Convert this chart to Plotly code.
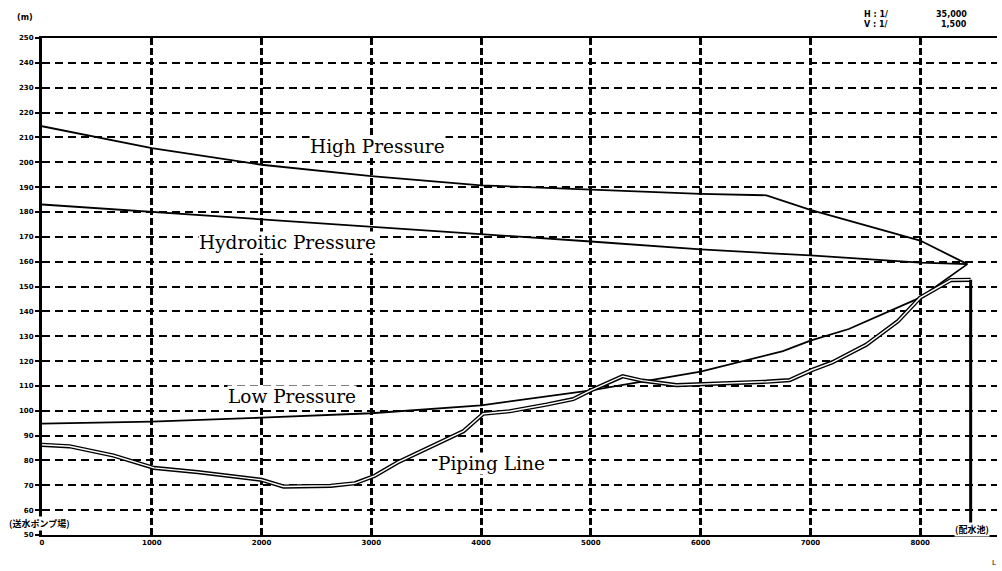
import plotly.graph_objects as go

# ---- data (distance in m, elevation/pressure head in m) ----
high_x = [0, 1000, 2000, 3000, 4000, 5000, 6000, 6600, 7000, 8000, 8430]
high_y = [214.5, 205.7, 199.0, 194.4, 190.7, 189.1, 187.3, 186.7, 180.8, 168.5, 159.0]

hydro_x = [0, 1000, 2000, 3000, 4000, 5000, 6000, 7000, 8000, 8430]
hydro_y = [183.0, 180.0, 177.1, 174.3, 171.2, 168.1, 164.9, 162.5, 159.6, 159.0]

low_x = [0, 1000, 2000, 3000, 4000, 5000, 6000, 6750, 7000, 7350, 8000, 8430]
low_y = [94.8, 95.6, 97.2, 99.0, 102.2, 108.2, 115.7, 124.0, 128.2, 132.9, 145.5, 159.0]

pipe_x = [0, 250, 650, 1020, 1420, 2000, 2200, 2630, 2850, 3030, 3240, 3480, 3840,
          4020, 4260, 4600, 4840, 4990, 5290, 5470, 5780, 6600, 6810, 7020, 7200,
          7510, 7800, 8000, 8280, 8460]
pipe_y = [86.3, 85.7, 82.0, 77.0, 75.3, 72.2, 69.5, 69.8, 70.8, 73.8, 79.2, 84.2, 91.8,
          98.8, 99.8, 102.5, 104.7, 108.0, 113.9, 112.1, 110.3, 111.7, 112.3, 116.5, 119.5,
          126.6, 136.1, 145.5, 152.6, 152.7]

reservoir_x = [8460, 8460]
reservoir_y = [152.7, 50]

x_ticks = [0, 1000, 2000, 3000, 4000, 5000, 6000, 7000, 8000]
x_labels = [str(v) for v in x_ticks]
y_ticks = list(range(50, 251, 10))
y_labels = [str(v) for v in y_ticks]

series_labels = ["High Pressure", "Hydroitic Pressure", "Low Pressure", "Piping Line"]
label_pos = [(3052, 206.5), (2232, 167.9), (2278, 105.9), (4091, 78.6)]

fig = go.Figure()
line_style = dict(color="black", width=1.8)
fig.add_trace(go.Scatter(x=high_x, y=high_y, mode="lines", line=line_style, hoverinfo="skip"))
fig.add_trace(go.Scatter(x=hydro_x, y=hydro_y, mode="lines", line=line_style, hoverinfo="skip"))
fig.add_trace(go.Scatter(x=low_x, y=low_y, mode="lines", line=line_style, hoverinfo="skip"))
# double line for the piping profile
fig.add_trace(go.Scatter(x=pipe_x, y=pipe_y, mode="lines",
                         line=dict(color="black", width=4.2), hoverinfo="skip"))
fig.add_trace(go.Scatter(x=pipe_x, y=pipe_y, mode="lines",
                         line=dict(color="white", width=1.4), hoverinfo="skip"))
fig.add_trace(go.Scatter(x=reservoir_x, y=reservoir_y, mode="lines",
                         line=dict(color="black", width=3), hoverinfo="skip"))

serif = dict(family="DejaVu Serif", size=18.5, color="black")
for txt, (lx, ly) in zip(series_labels, label_pos):
    fig.add_annotation(x=lx, y=ly, text=txt, showarrow=False, font=serif,
                       bgcolor="white", borderpad=0, xanchor="center", yanchor="middle")

small = dict(family="DejaVu Sans", size=8, color="black", weight="bold")
cjk = dict(family="Noto Sans CJK JP", size=9, color="black", weight="bold")


def note(x, y, text, font, xanchor="center", bg=None):
    fig.add_annotation(xref="paper", yref="paper", x=x, y=y, text=text, showarrow=False,
                       font=font, xanchor=xanchor, yanchor="middle",
                       bgcolor=bg if bg else "rgba(0,0,0,0)", borderpad=0)


note(-0.018, 1.042, "(m)", small)
note(-0.003, 0.024, "(送水ポンプ場)", cjk, bg="white")
note(0.974, 0.012, "(配水池)", cjk, bg="white")
note(0.86, 1.048, "H : 1/", small, xanchor="left")
note(0.970, 1.048, "35,000", small, xanchor="right")
note(0.86, 1.028, "V : 1/", small, xanchor="left")
note(0.970, 1.028, "1,500", small, xanchor="right")
note(0.997, -0.057, "L", dict(family="DejaVu Sans", size=7, color="black"))

fig.update_xaxes(range=[0, 8700], tickvals=x_ticks, ticktext=x_labels,
                 showgrid=True, gridcolor="black", gridwidth=2.6, griddash="7px,3px",
                 showline=True, linecolor="black", linewidth=2, mirror=True,
                 zeroline=False, ticks="", ticklen=0,
                 tickfont=dict(family="DejaVu Sans", size=7, color="black", weight="bold"))
fig.update_yaxes(range=[50, 250], tickvals=y_ticks, ticktext=y_labels,
                 showgrid=True, gridcolor="black", gridwidth=1.8, griddash="8px,5px",
                 showline=True, linecolor="black", linewidth=3,
                 zeroline=False, ticks="outside", ticklen=4, tickwidth=2, tickcolor="black",
                 tickfont=dict(family="DejaVu Sans", size=7, color="black", weight="bold"))

fig.update_layout(width=1002, height=571, margin=dict(l=42, r=5, t=38, b=36),
                  plot_bgcolor="white", paper_bgcolor="white", showlegend=False)

fig.write_html("out.html")
